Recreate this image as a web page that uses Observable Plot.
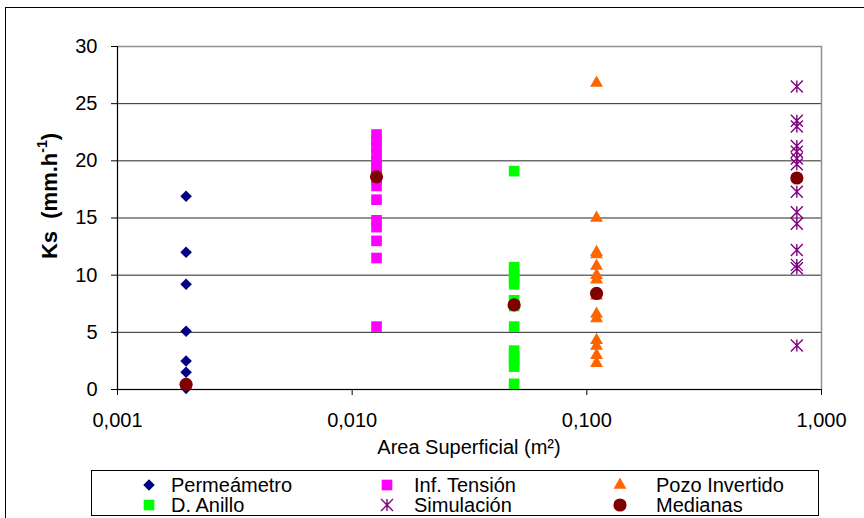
<!DOCTYPE html>
<html><head><meta charset="utf-8">
<script src="https://cdn.jsdelivr.net/npm/d3@7"></script>
<script src="https://cdn.jsdelivr.net/npm/@observablehq/plot@0.6"></script>
<style>
html,body{margin:0;padding:0;background:#fff;overflow:hidden;}
#wrap{position:relative;width:864px;height:518px;overflow:hidden;font-family:"Liberation Sans",Arial,sans-serif;}
#frame{position:absolute;left:5px;top:7px;width:900px;height:600px;border:1px solid #000;box-sizing:border-box;pointer-events:none;}
#chart{position:absolute;left:0;top:0;}
#legend{position:absolute;left:91px;top:470px;}
</style></head><body>
<div id="wrap"><div id="frame"></div><div id="chart"></div><div id="legend"></div></div>
<script>
// ---- data ----
const areas = [0.00196, 0.0127, 0.049, 0.11, 0.785];   // m², one per method
const seriesNames = ["Permeámetro", "Inf. Tensión", "D. Anillo", "Pozo Invertido", "Simulación", "Medianas"];
const permeametro   = [16.9, 12.0, 9.2, 5.1, 2.5, 1.5, 0.1];
const infTension    = [22.3, 21.8, 21.2, 20.6, 20.0, 19.5, 19.0, 18.4, 17.8, 16.6, 14.8, 14.2, 13.0, 11.5, 5.5];
const dAnillo       = [19.1, 10.7, 10.2, 9.7, 9.2, 7.8, 7.3, 5.5, 3.4, 2.9, 2.5, 2.0, 0.5];
const pozoInvertido = [26.8, 15.0, 12.0, 11.8, 10.8, 10.0, 9.6, 8.2, 6.6, 6.2, 4.3, 3.8, 3.0, 2.3];
const simulacion    = [26.5, 23.5, 23.0, 21.3, 20.8, 20.2, 19.7, 17.3, 15.5, 14.5, 12.2, 10.9, 10.6, 3.85];
const medianas      = [0.45, 18.6, 7.4, 8.4, 18.5];
const yTicks = [0, 5, 10, 15, 20, 25, 30];
const xTicks = [0.001, 0.01, 0.1, 1];
const xTickLabels = ["0,001", "0,010", "0,100", "1,000"];
const xLabel = "Area Superficial (m²)";

// ---- build tables ----
const pts = (vals, area) => vals.map(v => ({area, ks: v}));
const tPerm = pts(permeametro, areas[0]);
const tTens = pts(infTension, areas[1]);
const tAnil = pts(dAnillo, areas[2]);
const tPozo = pts(pozoInvertido, areas[3]);
const tSim  = pts(simulacion, areas[4]);
const tMed  = medianas.map((v, i) => ({area: areas[i], ks: v}));

const excelStar = {
  draw(ctx, size) {
    const r = Math.sqrt(size / Math.PI);
    ctx.moveTo(-r, -r); ctx.lineTo(r, r);
    ctx.moveTo(-r, r); ctx.lineTo(r, -r);
    ctx.moveTo(0, -r); ctx.lineTo(0, r);
  }
};

const styles = [
  {symbol: "diamond2", d3sym: d3.symbolDiamond2, r: 5.2, fill: "#000080", stroke: "none"},
  {symbol: "square", d3sym: d3.symbolSquare, r: 6.0, fill: "#FF00FF", stroke: "none"},
  {symbol: "square", d3sym: d3.symbolSquare, r: 6.0, fill: "#00FF00", stroke: "none"},
  {symbol: "triangle", d3sym: d3.symbolTriangle, r: 4.8, fill: "#FF6600", stroke: "none"},
  {symbol: excelStar, d3sym: excelStar, r: 6.0, fill: "none", stroke: "#800080"},
  {symbol: "circle", d3sym: d3.symbolCircle, r: 6.6, fill: "#800000", stroke: "none"}
];
const tables = [tPerm, tTens, tAnil, tPozo, tSim, tMed];

const W = 864, H = 462;
const plot = Plot.plot({
  width: W, height: H,
  marginLeft: 117, marginRight: 43, marginTop: 46, marginBottom: 73,
  style: {fontFamily: "'Liberation Sans', Arial, sans-serif", fontSize: "20px", background: "transparent", color: "#000"},
  x: {type: "log", domain: [0.001, 1]},
  y: {domain: [0, 30]},
  marks: [
    Plot.gridY(yTicks.slice(1, -1), {stroke: "#000", strokeOpacity: 0.85}),
    Plot.frame({stroke: "#909090", strokeWidth: 1.5}),
    Plot.ruleY([0], {stroke: "#000"}),
    Plot.ruleX([0.001], {stroke: "#000"}),
    Plot.axisY({ticks: yTicks, tickSize: 6, tickPadding: 14, label: null, stroke: "#000"}),
    Plot.axisX({ticks: xTicks, tickFormat: (d, i) => xTickLabels[xTicks.indexOf(d)], tickSize: 6, tickPadding: 17, label: null, stroke: "#000"}),
    ...tables.map((t, i) => Plot.dot(t, {
      x: "area", y: "ks",
      symbol: () => styles[i].symbol,
      r: styles[i].r,
      fill: styles[i].fill,
      stroke: styles[i].stroke,
      strokeWidth: 1.4
    }))
  ]
});
document.getElementById("chart").appendChild(plot);

// axis titles
const svg = d3.select(plot);
const xr = plot.scale("x").range;
svg.append("text")
  .attr("x", (xr[0] + xr[1]) / 2).attr("y", 454)
  .attr("text-anchor", "middle").attr("font-size", 20).attr("fill", "#000")
  .text(xLabel);
const yt = svg.append("text")
  .attr("transform", "translate(57,196) rotate(-90)")
  .attr("text-anchor", "middle").attr("font-size", 22).attr("font-weight", "bold").attr("fill", "#000");
yt.append("tspan").text("Ks  (mm.h");
yt.append("tspan").attr("font-size", 14).attr("dy", -10).text("-1");
yt.append("tspan").attr("dy", 10).text(")");

// legend
const legendOrder = [0, 1, 3, 2, 4, 5];
const colX = [58, 296, 529];
const txtX = [80, 323, 565];
const rowY = [15, 35];
const lg = d3.select("#legend").append("svg").attr("width", 728).attr("height", 46)
  .style("font-family", "'Liberation Sans', Arial, sans-serif");
lg.append("rect").attr("x", 0.5).attr("y", 0.5).attr("width", 727).attr("height", 45)
  .attr("fill", "#fff").attr("stroke", "#000");
legendOrder.forEach((si, k) => {
  const c = k % 3, r = Math.floor(k / 3);
  const st = styles[si];
  lg.append("path")
    .attr("transform", `translate(${colX[c]},${rowY[r]})`)
    .attr("d", d3.symbol().type(st.d3sym).size(Math.PI * st.r * st.r)())
    .attr("fill", st.fill).attr("stroke", st.stroke).attr("stroke-width", 1.4);
  lg.append("text").attr("x", txtX[c]).attr("y", rowY[r]).attr("dy", "0.35em")
    .attr("font-size", 20).attr("fill", "#000").text(seriesNames[si]);
});
</script>
</body></html>
